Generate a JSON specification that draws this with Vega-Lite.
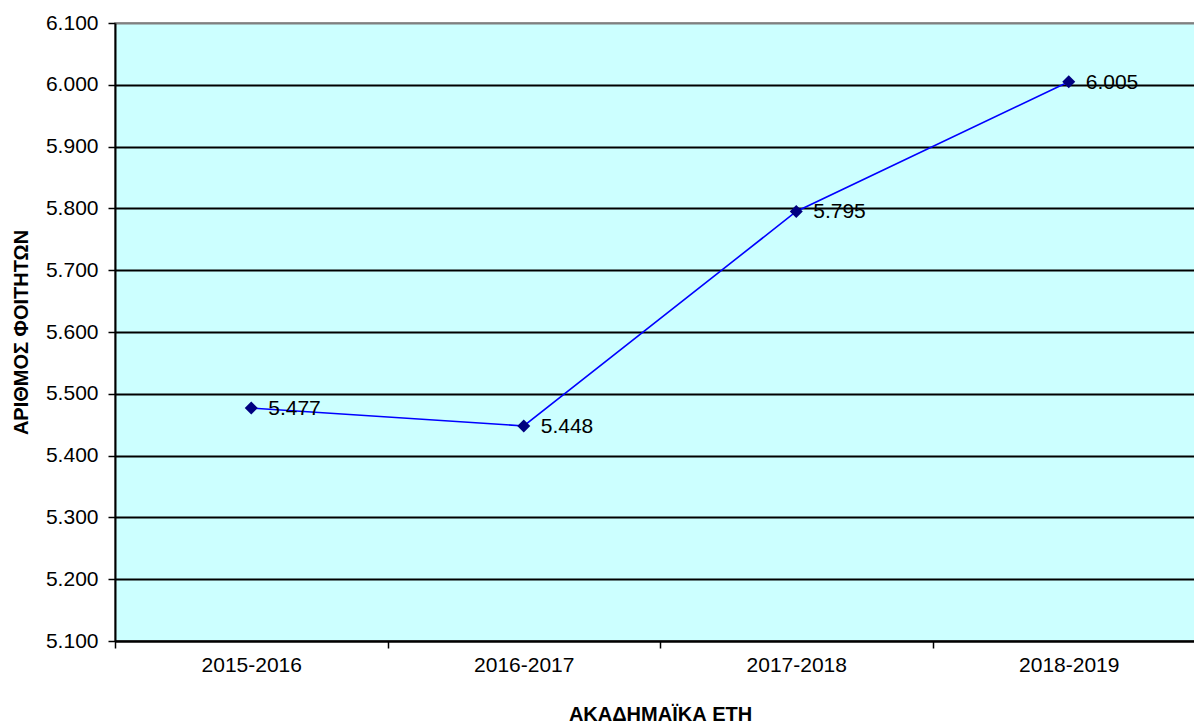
{
  "$schema": "https://vega.github.io/schema/vega-lite/v6.json",
  "autosize": "none",
  "width": 1090,
  "height": 618,
  "padding": {"left": 115, "top": 23, "right": 0, "bottom": 83},
  "background": "white",
  "config": {
    "locale": {"number": {"decimal": ",", "thousands": ".", "grouping": [3], "currency": ["", " €"]}},
    "view": {"fill": "#CCFFFF", "stroke": "#808080", "strokeWidth": 1.5},
    "font": "Liberation Sans"
  },
  "data": {
    "values": [
      {"year": "2015-2016", "students": 5477},
      {"year": "2016-2017", "students": 5448},
      {"year": "2017-2018", "students": 5795},
      {"year": "2018-2019", "students": 6005}
    ]
  },
  "encoding": {
    "x": {
      "field": "year", "type": "nominal", "sort": null,
      "scale": {"type": "band", "paddingInner": 0, "paddingOuter": 0},
      "axis": {
        "title": "ΑΚΑΔΗΜΑΪΚΑ ΕΤΗ", "titleFont": "Liberation Sans", "titleFontSize": 20, "titleFontWeight": "bold", "titleColor": "black", "titlePadding": 29,
        "labelAngle": 0, "labelFont": "Liberation Sans", "labelFontSize": 21, "labelColor": "black", "labelPadding": 6,
        "tickBand": "extent", "tickColor": "black", "tickSize": 7, "tickWidth": 1.5,
        "domainColor": "black", "domainWidth": 2, "grid": false
      }
    },
    "y": {
      "field": "students", "type": "quantitative",
      "scale": {"domain": [5100, 6100], "zero": false, "nice": false},
      "axis": {
        "title": "ΑΡΙΘΜΟΣ ΦΟΙΤΗΤΩΝ", "titleFont": "Liberation Sans", "titleFontSize": 20, "titleFontWeight": "bold", "titleColor": "black", "titlePadding": 14,
        "values": [5100, 5200, 5300, 5400, 5500, 5600, 5700, 5800, 5900, 6000, 6100],
        "format": ",.0f",
        "labelFont": "Liberation Sans", "labelFontSize": 21, "labelColor": "black", "labelPadding": 10,
        "tickColor": "black", "tickSize": 7, "tickWidth": 1.5,
        "domainColor": "black", "domainWidth": 2,
        "grid": true,
        "gridColor": {"condition": {"test": "datum.value == 6100", "value": "#808080"}, "value": "black"},
        "gridWidth": 1.8
      }
    }
  },
  "layer": [
    {"mark": {"type": "line", "color": "#0000FF", "strokeWidth": 1.6}},
    {"mark": {"type": "point", "shape": "diamond", "filled": true, "color": "#000080", "size": 170, "opacity": 1}},
    {
      "mark": {"type": "text", "align": "left", "baseline": "middle", "dx": 17, "dy": 1, "fontSize": 21, "font": "Liberation Sans", "color": "black"},
      "encoding": {"text": {"field": "students", "type": "quantitative", "format": ",.0f"}}
    }
  ]
}
